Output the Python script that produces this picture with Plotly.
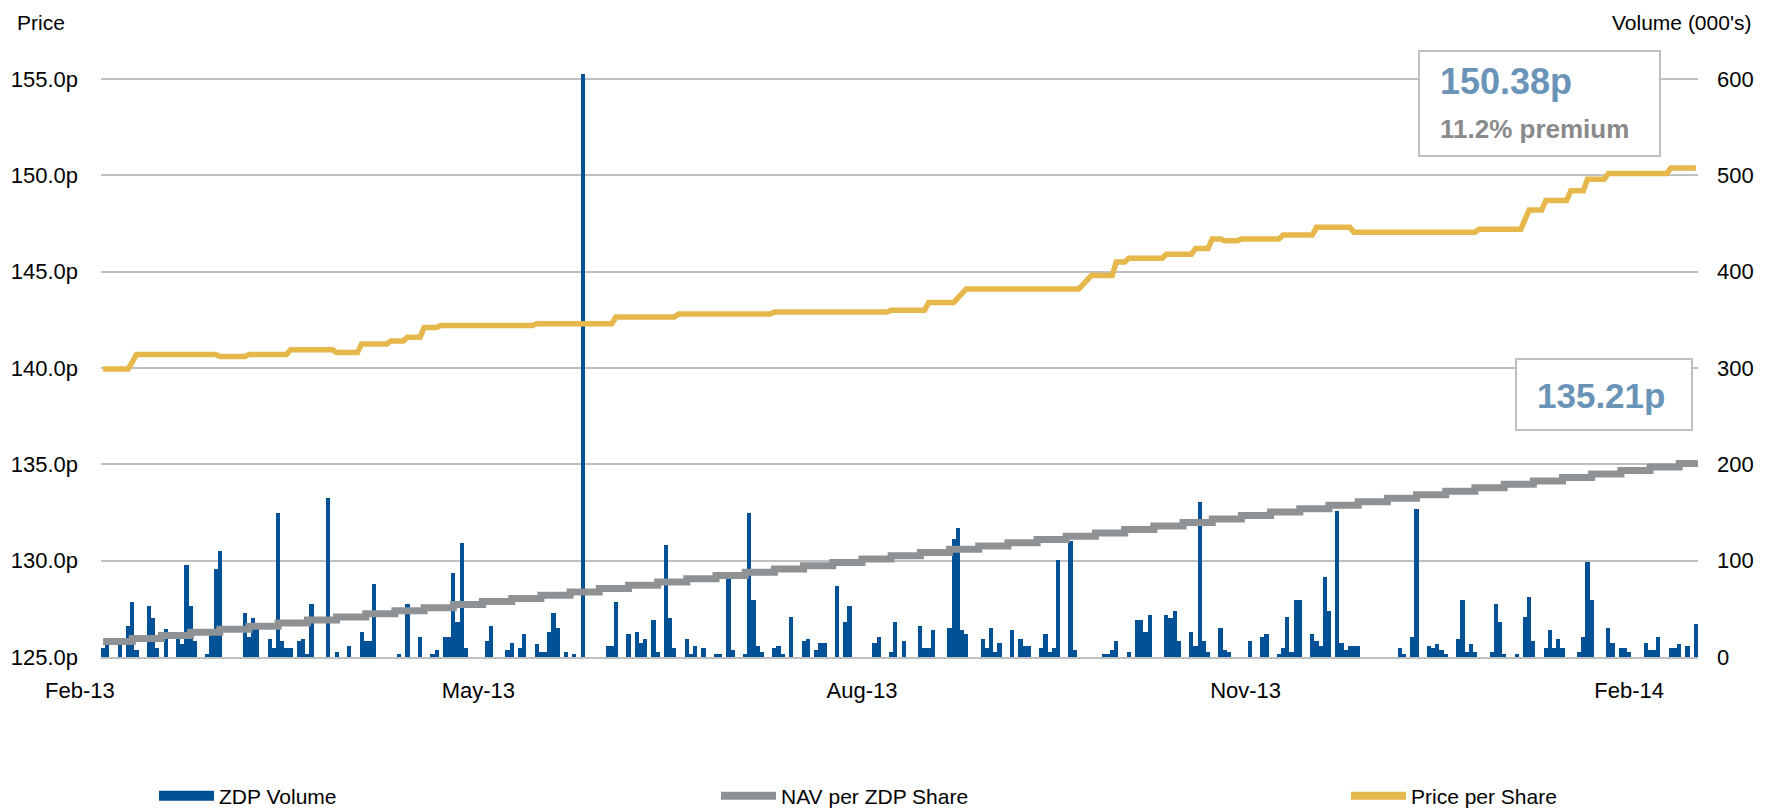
import pandas as pd
import plotly.graph_objects as go

START = pd.Timestamp("2013-01-31")

# daily ZDP volume (000's), keyed by day offset from START
vol_day = [0, 1, 4, 6, 7, 8, 11, 12, 13, 15, 18, 19, 20, 21, 22, 25, 26, 27, 28,
           34, 35, 36, 37, 40, 41, 42, 43, 44, 45, 47, 48, 49, 50, 54, 56, 59,
           62, 63, 64, 65, 71, 73, 76, 79, 80, 82, 83, 84, 85, 86, 87, 92, 93,
           97, 98, 100, 101, 104, 105, 106, 107, 108, 109, 111, 113, 115, 121,
           122, 123, 126, 128, 129, 130, 132, 133, 135, 136, 137, 140, 141, 142,
           144, 147, 148, 150, 151, 154, 155, 156, 157, 158, 161, 162, 163, 165,
           168, 169, 171, 172, 173, 176, 178, 179, 185, 186, 189, 190, 192, 196,
           197, 198, 199, 203, 204, 205, 206, 207, 211, 212, 213, 214, 215, 218,
           220, 221, 222, 225, 226, 227, 228, 229, 232, 233, 240, 241, 242, 243,
           246, 248, 249, 250, 251, 255, 256, 257, 258, 261, 262, 263, 264, 265,
           268, 269, 270, 275, 278, 279, 282, 283, 284, 285, 286, 287, 290, 291,
           292, 293, 294, 296, 297, 298, 299, 300, 301, 311, 312, 314, 315, 318,
           319, 320, 321, 322, 325, 326, 327, 328, 329, 333, 334, 335, 336, 339,
           341, 342, 343, 346, 347, 348, 349, 350, 354, 355, 356, 357, 361, 362,
           364, 365, 366, 370, 371, 372, 373, 376, 377, 378, 380, 382, 383]
vol_k = [9, 19, 13, 32, 57, 7, 53, 40, 9, 29, 21, 13, 95, 53, 17, 3, 25, 91, 110,
         46, 21, 40, 29, 19, 9, 150, 17, 9, 9, 17, 19, 3, 55, 165, 5, 11,
         26, 17, 17, 76, 3, 55, 21, 3, 7, 21, 21, 87, 36, 118, 9, 17, 32,
         7, 15, 9, 24, 13, 5, 5, 26, 46, 30, 5, 3, 605, 11,
         11, 57, 24, 26, 15, 19, 38, 5, 116, 40, 9, 19, 3, 11,
         9, 3, 3, 83, 7, 3, 150, 59, 11, 5, 9, 11, 3, 42,
         17, 19, 7, 15, 15, 74, 36, 53, 15, 21, 5, 36, 17, 32,
         9, 9, 28, 30, 122, 134, 28, 24, 19, 9, 30, 5, 15, 28,
         19, 11, 11, 9, 24, 5, 9, 101, 120, 7, 3, 3, 7, 17,
         5, 38, 38, 26, 44, 44, 40, 48, 17, 26, 11, 161, 17, 5,
         30, 7, 5, 17, 21, 24, 3, 9, 42, 5, 59, 59, 24, 17,
         11, 83, 48, 152, 15, 7, 11, 11, 11, 9, 3, 21, 154, 11,
         9, 13, 7, 3, 19, 59, 5, 13, 5, 5, 55, 36, 3, 3,
         42, 62, 17, 9, 28, 9, 19, 9, 5, 21, 99, 59, 30, 15,
         9, 9, 5, 15, 7, 7, 21, 9, 9, 13, 11, 34, 5]

# price per share (p)
price_day = [0, 6, 7, 8, 27, 28, 34, 35, 44, 45, 55, 56, 61, 62, 68, 69, 72, 73,
             76, 77, 80, 81, 103, 104, 122, 123, 137, 138, 160, 161, 188, 189,
             197, 198, 204, 207, 234, 236, 237, 242, 243, 245, 246, 254, 255,
             261, 262, 265, 266, 268, 269, 272, 273, 282, 283, 290, 291, 299,
             300, 329, 330, 340, 342, 345, 346, 351, 352, 355, 356, 360, 361,
             375, 376, 382]
price_p = [139.95, 139.95, 140.3, 140.7, 140.7, 140.6, 140.6, 140.7, 140.7,
           140.95, 140.95, 140.8, 140.8, 141.25, 141.25, 141.4, 141.4, 141.6,
           141.6, 142.1, 142.1, 142.2, 142.2, 142.3, 142.3, 142.65, 142.65,
           142.8, 142.8, 142.9, 142.9, 143.0, 143.0, 143.4, 143.4, 144.1, 144.1,
           144.6, 144.8, 144.8, 145.5, 145.5, 145.7, 145.7, 145.9, 145.9, 146.2,
           146.2, 146.7, 146.7, 146.6, 146.6, 146.7, 146.7, 146.9, 146.9, 147.3,
           147.3, 147.05, 147.05, 147.2, 147.2, 148.2, 148.2, 148.7, 148.7,
           149.2, 149.2, 149.8, 149.8, 150.1, 150.1, 150.38, 150.38]

# weekly NAV per ZDP share (p)
nav_day = list(range(0, 379, 7)) + [382]
nav_p = [125.80, 125.96, 126.12, 126.28, 126.44, 126.60, 126.76, 126.92, 127.08,
         127.24, 127.40, 127.56, 127.72, 127.88, 128.04, 128.21, 128.38, 128.55,
         128.72, 128.89, 129.06, 129.23, 129.40, 129.57, 129.74, 129.91, 130.08,
         130.25, 130.42, 130.59, 130.76, 130.93, 131.10, 131.27, 131.44, 131.62,
         131.80, 131.98, 132.16, 132.34, 132.52, 132.70, 132.88, 133.06, 133.24,
         133.42, 133.60, 133.78, 133.96, 134.14, 134.32, 134.50, 134.68, 134.86,
         135.04, 135.21]

tick_dates = ["2013-05-01", "2013-08-01", "2013-11-01", "2014-02-01"]
tick_text = ["May-13", "Aug-13", "Nov-13", "Feb-14"]
first_label = "Feb-13"

BLUE = "#005196"
GREY = "#8f9295"
GOLD = "#e6b84c"
GRID = "#c0c0c0"
FONT = "Liberation Sans, Arial, sans-serif"
FS = 21
TFS = 22

# the page body adds an 8px offset, so the figure is laid out in screen px minus 8
OFF = 8
W, H = 1775 - OFF, 810 - OFF
L, T = 101 - OFF, 71 - OFF
R, B = W - (1698 - OFF), H - (657 - OFF)
PW, PH = W - L - R, H - T - B


def px(x):
    return (x - OFF - L) / PW


def py(y):
    return (H - B - (y - OFF)) / PH


def to_date(d):
    return START + pd.to_timedelta(d, unit="D")


fig = go.Figure()

fig.add_trace(go.Bar(
    x=to_date(vol_day), y=vol_k, yaxis="y",
    width=86400000, marker=dict(color=BLUE, line=dict(width=0)),
    showlegend=False, name="ZDP Volume",
))
fig.add_trace(go.Scatter(
    x=to_date(nav_day), y=nav_p, yaxis="y2", mode="lines", name="NAV per ZDP Share",
    line=dict(color=GREY, width=7, shape="hv"), showlegend=False,
))
fig.add_trace(go.Scatter(
    x=to_date(price_day), y=price_p, yaxis="y2", mode="lines", name="Price per Share",
    line=dict(color=GOLD, width=5.5), showlegend=False,
))

# legend entries, each in its own legend box
for name, color, lw, leg in [("ZDP Volume", BLUE, 18, "legend"),
                             ("NAV per ZDP Share", GREY, 8, "legend2"),
                             ("Price per Share", GOLD, 8, "legend3")]:
    fig.add_trace(go.Scatter(x=[None], y=[None], mode="lines", name=name,
                             line=dict(color=color, width=lw), legend=leg))

legend_common = dict(orientation="h", yanchor="middle", xanchor="left",
                     xref="container", yref="container",
                     font=dict(family=FONT, size=FS, color="#000000"),
                     bgcolor="rgba(0,0,0,0)", itemwidth=55)
leg_y = 1 - (796 - OFF) / H

fig.update_layout(
    width=W, height=H,
    margin=dict(l=L, r=R, t=T, b=B, autoexpand=False),
    plot_bgcolor="white", paper_bgcolor="white",
    bargap=0,
    font=dict(family=FONT, size=FS, color="#000000"),
    xaxis=dict(
        type="date", automargin=False,
        range=[to_date(-0.5), to_date(382.5)],
        tickvals=tick_dates, ticktext=tick_text,
        showgrid=False, zeroline=False,
        showline=True, linecolor=GRID, linewidth=2,
        ticks="", ticklabelstandoff=13,
        tickfont=dict(family=FONT, size=TFS),
    ),
    yaxis=dict(
        side="right", range=[0, 608.3], dtick=100, tick0=0, automargin=False,
        showgrid=True, gridcolor=GRID, gridwidth=2, zeroline=False,
        ticks="", ticklabelstandoff=18,
        tickfont=dict(family=FONT, size=TFS),
    ),
    yaxis2=dict(
        overlaying="y", side="left", range=[125, 155.415], dtick=5, tick0=125,
        tickformat=".1f", ticksuffix="p", automargin=False,
        showgrid=False, zeroline=False,
        ticks="", ticklabelstandoff=22,
        tickfont=dict(family=FONT, size=TFS),
    ),
    legend=dict(x=(154 - OFF) / W, y=leg_y, **legend_common),
    legend2=dict(x=(716 - OFF) / W, y=leg_y, **legend_common),
    legend3=dict(x=(1346 - OFF) / W, y=leg_y, **legend_common),
)

# annotation boxes, screen-pixel corners
boxes = [(1419, 51, 1660, 156), (1516, 359, 1692, 430)]
fig.update_layout(shapes=[
    dict(type="rect", xref="paper", yref="paper", layer="above",
         x0=px(x0), x1=px(x1), y0=py(y1), y1=py(y0),
         fillcolor="white", line=dict(color=GRID, width=2))
    for x0, y0, x1, y1 in boxes
])

annotations = [
    dict(text="Price", x=px(15), y=py(23), xanchor="left", yanchor="middle",
         font=dict(family=FONT, size=FS, color="#000000")),
    dict(text="Volume (000's)", x=px(1753), y=py(23), xanchor="right", yanchor="middle",
         font=dict(family=FONT, size=FS, color="#000000")),
    dict(text=first_label, x=px(80), y=py(690), xanchor="center", yanchor="middle",
         font=dict(family=FONT, size=TFS, color="#000000")),
    dict(text="<b>150.38p</b>", x=px(1438), y=py(81), xanchor="left", yanchor="middle",
         font=dict(family=FONT, size=36, color="#6a93b8")),
    dict(text="<b>11.2% premium</b>", x=px(1438), y=py(129), xanchor="left",
         yanchor="middle", font=dict(family=FONT, size=26, color="#8a8a8a")),
    dict(text="<b>135.21p</b>", x=px(1535), y=py(395), xanchor="left", yanchor="middle",
         font=dict(family=FONT, size=35, color="#6a93b8")),
]
for a in annotations:
    a.update(xref="paper", yref="paper", showarrow=False)
fig.update_layout(annotations=annotations)

fig.write_html("out.html")
